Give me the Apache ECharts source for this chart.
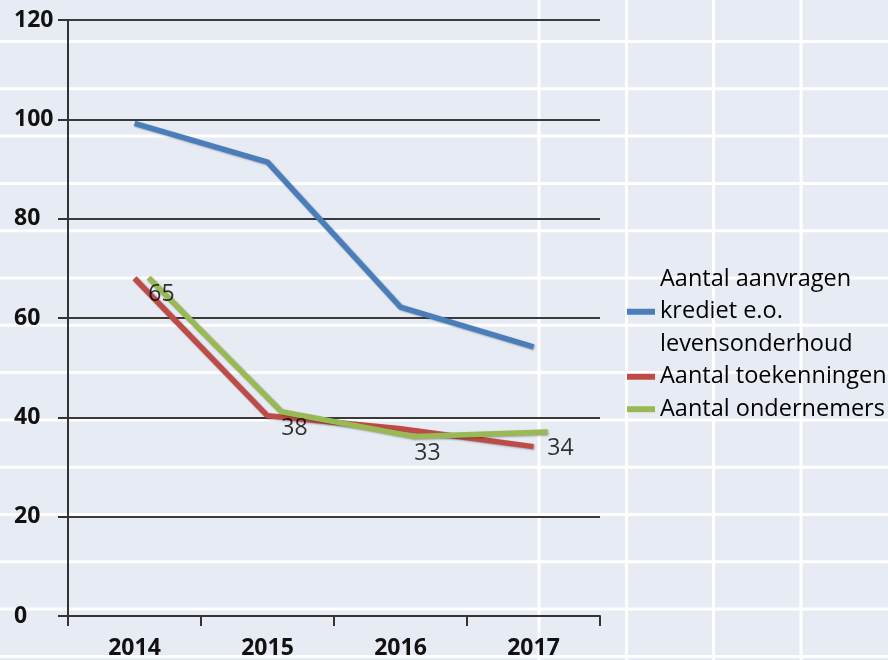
<!DOCTYPE html>
<html>
<head>
<meta charset="utf-8">
<script src="https://cdn.jsdelivr.net/npm/echarts@6/dist/echarts.min.js"></script>
<style>
html,body{margin:0;padding:0;background:#e7ebf4;}
#chart{width:888px;height:660px;}
</style>
</head>
<body>
<div id="chart"></div>
<script>
var categories = ['2014', '2015', '2016', '2017'];
var seriesNames = ['Aantal aanvragen\nkrediet e.o.\nlevensonderhoud', 'Aantal toekenningen', 'Aantal ondernemers'];
var aanvragen = [99.2, 91.4, 62.2, 54.2];
var toekenningen = [68, 40.3, 37.7, 34.1];
var ondernemers = [68.3, 41.4, 36.4, 37.3];
var labelValues = [65, 38, 33, 34];
var yTicks = {min: 0, max: 120, interval: 20};

var font = 'Open Sans';
var chart = echarts.init(document.getElementById('chart'), null, {renderer: 'canvas'});

// background spreadsheet-like cell lines (decoration)
var bg = [];
for (var k = 0; k < 14; k++) {
  var y = 41.5 + 47.3 * k;
  bg.push({type: 'line', z: -10, silent: true, shape: {x1: 0, y1: y, x2: 888, y2: y}, style: {stroke: '#ffffff', lineWidth: 3}});
}
[539, 626.5, 713.5, 801].forEach(function (x) {
  bg.push({type: 'line', z: -10, silent: true, shape: {x1: x, y1: 0, x2: x, y2: 660}, style: {stroke: '#ffffff', lineWidth: 3}});
});

var lineCommon = function (color) {
  return {
    width: 5.5, color: color, cap: 'butt', join: 'round',
    shadowColor: 'rgba(0,0,0,0.3)', shadowBlur: 2, shadowOffsetX: 1, shadowOffsetY: 1
  };
};

chart.setOption({
  backgroundColor: '#e7ebf4',
  animation: false,
  graphic: {elements: bg},
  grid: [
    {left: 68, right: 288, top: 20, bottom: 42, containLabel: false},
    {left: 82, right: 274, top: 20, bottom: 42, containLabel: false}
  ],
  legend: {
    orient: 'vertical', left: 627, top: 263, itemGap: 0, padding: 0,
    itemWidth: 28, itemHeight: 6, icon: 'rect',
    data: seriesNames,
    textStyle: {fontFamily: font, fontSize: 23.5, fontWeight: 500, color: '#000', lineHeight: 32.5}
  },
  xAxis: [
    {
      type: 'category', gridIndex: 0, data: categories, boundaryGap: true,
      axisLine: {lineStyle: {color: '#333', width: 2}},
      axisTick: {show: true, length: 10, lineStyle: {color: '#333', width: 2}},
      axisLabel: {fontFamily: font, fontSize: 23, fontWeight: 'bold', color: '#111', margin: 21},
      splitLine: {show: false}
    },
    {
      type: 'category', gridIndex: 1, data: categories, boundaryGap: true, show: false
    }
  ],
  yAxis: [
    {
      type: 'value', gridIndex: 0, min: yTicks.min, max: yTicks.max, interval: yTicks.interval,
      axisLine: {show: true, lineStyle: {color: '#333', width: 2}},
      axisTick: {show: true, length: 10, lineStyle: {color: '#333', width: 2}},
      axisLabel: {fontFamily: font, fontSize: 23, fontWeight: 'bold', color: '#111', align: 'left', margin: 54, padding: [3, 0, 0, 0]},
      splitLine: {show: true, lineStyle: {color: '#3a3a3a', width: 2}}
    },
    {
      type: 'value', gridIndex: 1, min: yTicks.min, max: yTicks.max, interval: yTicks.interval, show: false,
      splitLine: {show: false}
    }
  ],
  series: [
    {
      name: seriesNames[0], type: 'line', xAxisIndex: 0, yAxisIndex: 0, data: aanvragen,
      symbol: 'none', color: '#4a7ebb', lineStyle: lineCommon('#4a7ebb'), z: 3
    },
    {
      name: seriesNames[1], type: 'line', xAxisIndex: 0, yAxisIndex: 0, data: toekenningen,
      symbol: 'none', color: '#be4b48', lineStyle: lineCommon('#be4b48'), z: 3
    },
    {
      name: seriesNames[2], type: 'line', xAxisIndex: 1, yAxisIndex: 1, data: ondernemers,
      symbol: 'none', color: '#98b954', lineStyle: lineCommon('#98b954'), z: 4
    },
    {
      name: 'labels', type: 'scatter', xAxisIndex: 0, yAxisIndex: 0, data: labelValues,
      symbolSize: 1, itemStyle: {color: 'rgba(0,0,0,0)'}, z: 5, silent: true,
      label: {
        show: true, position: 'inside', offset: [27, 1],
        fontFamily: font, fontSize: 23, fontWeight: 500, color: '#000',
        formatter: function (p) { return String(labelValues[p.dataIndex]); }
      }
    }
  ]
});
</script>
</body>
</html>
